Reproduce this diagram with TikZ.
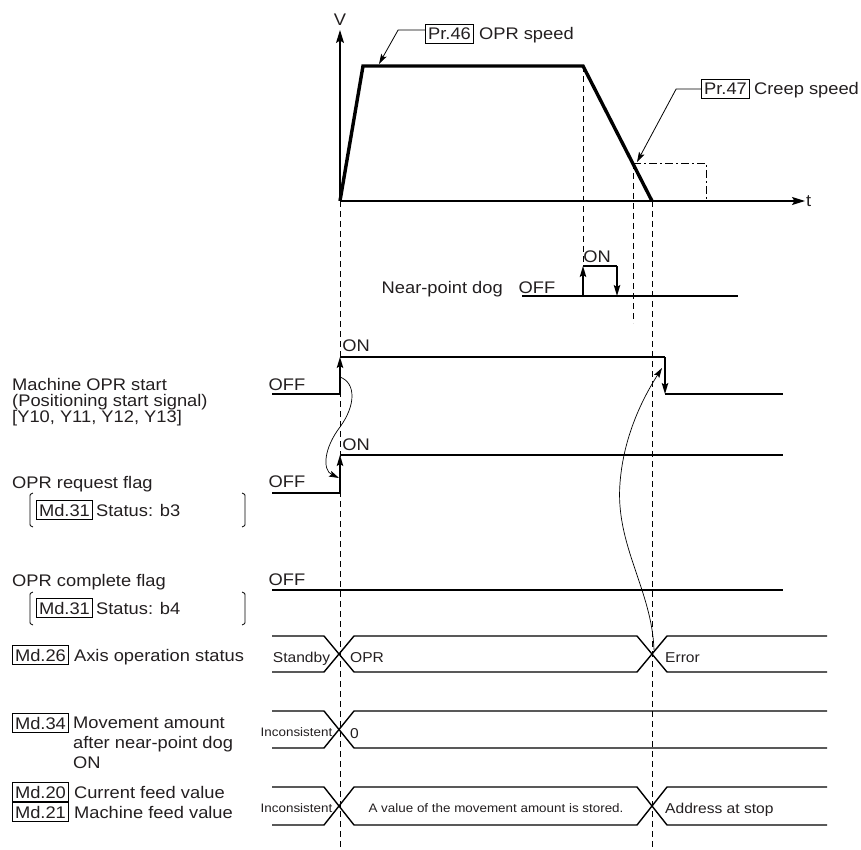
\documentclass[tikz,border=0pt]{standalone}
\usepackage{fontspec}
\setmainfont{Liberation Sans}[FakeStretch=1.09]
\usetikzlibrary{arrows.meta,positioning}
\definecolor{inkgray}{RGB}{35,31,32}
\newcommand{\lblsize}{\fontsize{16.8}{15}\selectfont}
\newcommand{\valsize}{\fontsize{14.3}{16}\selectfont}
\newcommand{\smlsize}{\fontsize{12.3}{14}\selectfont}

\begin{document}
\begin{tikzpicture}[x=1pt, y=-1pt,
  lbl/.style={inner sep=0pt, text=inkgray, font=\lblsize},
  val/.style={inner sep=0pt, text=inkgray, font=\valsize},
  sml/.style={inner sep=0pt, text=inkgray, font=\smlsize},
  parbox/.style={draw, line width=1pt, inner xsep=2.5pt, inner ysep=3.5pt, text height=12pt, text depth=0pt, text=inkgray, font=\lblsize},
  axisline/.style={line width=1.2pt, -{Stealth[length=13pt,width=8pt,inset=2.5pt]}},
  speed/.style={line width=3.4pt, line join=miter},
  sig/.style={line width=1.5pt},
  flank/.style={line width=1.5pt, -{Stealth[length=11pt,width=6.5pt,inset=2pt]}},
  lead/.style={line width=0.8pt, -{Stealth[length=10pt,width=6pt,inset=2pt]}},
  curl/.style={line width=0.7pt, -{Stealth[length=10pt,width=6pt,inset=2pt]}},
  guide/.style={line width=1pt, dash pattern=on 6pt off 4pt},
  bracket/.style={line width=0.8pt},
  bus/.style={line width=1.4pt}]
\useasboundingbox (0,0) rectangle (861,850);

% speed pattern
\coordinate (orig) at (340,201);
\coordinate (vtip) at (340,30);
\coordinate (ttip) at (805,201);
\draw[axisline] (orig) -- (vtip);
\draw[axisline] (orig) -- (ttip);
\node[lbl, anchor=base] (vlbl) at (340,26) {V};
\node[lbl, anchor=base west] (tlbl) at (806,207) {t};
\coordinate (accend) at (363,66);
\coordinate (decbeg) at (583,66);
\coordinate (stopped) at (652,201);
\draw[speed] (orig) -- (accend) -- (decbeg) -- (stopped);

\node[parbox, anchor=base] (pr46) at (449.5,40) {Pr.46};
\node[lbl, right=5pt of pr46.base east, anchor=base west] (oprspd) {OPR speed};
\coordinate (hitop) at (379,64);
\draw[lead] ([yshift=4pt]pr46.west) -- ++(-27,0) -- (hitop);

\node[parbox, anchor=base] (pr47) at (725.5,95) {Pr.47};
\node[lbl, right=4pt of pr47.base east, anchor=base west] (creep) {Creep speed};
\coordinate (creeppt) at (637,162);
\draw[lead] (pr47.west) -- ++(-25,0) -- (creeppt);

\coordinate (creepon) at (633,163);
\draw[line width=0.9pt, dash pattern=on 8pt off 3pt on 2pt off 3pt] (creepon) -- (706,163) -- (706,201);

% timing guides
\draw[guide] (decbeg) -- (583,266);
\draw[guide] (creepon) -- (633,323);
\draw[guide] (stopped) -- (652,850);
\draw[guide] (orig) -- (340,850);

% near-point dog
\node[lbl, anchor=base east] (doglbl) at (503,293) {Near-point dog};
\node[lbl, anchor=base] (dogoff) at (537,293) {OFF};
\node[lbl, anchor=base] (dogon) at (597,262) {ON};
\draw[sig] (522,296) -- (738,296) (583,266) -- (617,266);
\draw[flank] (583,296) -- (583,266);
\draw[flank] (617,266) -- (617,296);

% signals
\draw[sig] (272,394) -- (340,394) (340,357) -- (665,357) (665,394) -- (783,394);
\draw[flank] (340,394) -- (340,357);
\draw[flank] (665,357) -- (665,394);
\node[lbl, anchor=base] (stoff) at (287,390) {OFF};
\node[lbl, anchor=base] (ston) at (356,351) {ON};

\draw[sig] (272,493) -- (340,493) (340,455) -- (783,455);
\draw[flank] (340,493) -- (340,455);
\node[lbl, anchor=base] (rqoff) at (287,487) {OFF};
\node[lbl, anchor=base] (rqon) at (356,450) {ON};

\draw[sig, line width=2.2pt] (272,590) -- (783,590);
\node[lbl, anchor=base] (cpoff) at (287,585) {OFF};

\coordinate (startup) at (340,377);
\coordinate (requp) at (339,478);
\draw[curl] (startup) .. controls (356,383) and (356,405) .. (340,427) .. controls (324,448) and (322,470) .. (requp);
\coordinate (errcross) at (654,650);
\coordinate (startdown) at (662,368);
\draw[curl] (errcross) .. controls (652,590) and (615,545) .. (620,483) .. controls (624,430) and (648,390) .. (startdown);

% monitor data
\foreach \yt/\yb in {636/672, 787/825} {
  \draw[bus] (272,\yt) -- (324,\yt) -- (354,\yb) -- (637,\yb) -- (667,\yt) -- (827,\yt);
  \draw[bus] (272,\yb) -- (324,\yb) -- (354,\yt) -- (637,\yt) -- (667,\yb) -- (827,\yb);
}
\draw[bus] (272,711) -- (324,711) -- (354,748) -- (827,748);
\draw[bus] (272,748) -- (324,748) -- (354,711) -- (827,711);

\node[val, anchor=base] (standby) at (301.5,662) {Standby};
\node[val, anchor=base west] (oprst) at (350,662) {OPR};
\node[val, anchor=base west] (errst) at (665,662) {Error};
\node[sml, anchor=base] (incon1) at (296.5,736.5) {Inconsistent};
\node[val, anchor=base west] (zero) at (350,738) {0};
\node[sml, anchor=base] (incon2) at (296.5,812.5) {Inconsistent};
\node[sml, anchor=base] (stored) at (496,812.5) {A value of the movement amount is stored.};
\node[val, anchor=base west] (addr) at (665,813) {Address at stop};

% left side labels
\node[lbl, anchor=north west, align=left, font=\fontsize{16.8}{16}\selectfont] (opstart) at (12,378.5) {Machine OPR start\\(Positioning start signal)\\{[}Y10, Y11, Y12, Y13{]}};

\node[lbl, anchor=base west] (reqlbl) at (12,488) {OPR request flag};
\node[parbox, anchor=base west] (md31a) at (36,516) {Md.31};
\node[lbl, right=3pt of md31a.base east, anchor=base west] (b3) {Status: b3};
\draw[bracket] (33,493) .. controls (30,494) .. (30,498) -- (30,522) .. controls (30,526) .. (33,527);
\draw[bracket] (242,493) .. controls (245,494) .. (245,498) -- (245,522) .. controls (245,526) .. (242,527);

\node[lbl, anchor=base west] (cmplbl) at (12,586) {OPR complete flag};
\node[parbox, anchor=base west] (md31b) at (36,614) {Md.31};
\node[lbl, right=3pt of md31b.base east, anchor=base west] (b4) {Status: b4};
\draw[bracket] (33,592) .. controls (30,593) .. (30,597) -- (30,620) .. controls (30,624) .. (33,625);
\draw[bracket] (242,592) .. controls (245,593) .. (245,597) -- (245,620) .. controls (245,624) .. (242,625);

\node[parbox, anchor=base west] (md26) at (12,661) {Md.26};
\node[lbl, right=5pt of md26.base east, anchor=base west] (axstat) {Axis operation status};

\node[parbox, anchor=base west] (md34) at (12,729) {Md.34};
\node[lbl, align=left, anchor=north west, font=\fontsize{16.8}{20}\selectfont] (mvamt) at (73,717) {Movement amount\\after near-point dog\\ON};

\node[parbox, anchor=base west] (md20) at (12,798) {Md.20};
\node[lbl, right=5pt of md20.base east, anchor=base west] (curfeed) {Current feed value};
\node[parbox, anchor=base west] (md21) at (12,818) {Md.21};
\node[lbl, right=5pt of md21.base east, anchor=base west] (macfeed) {Machine feed value};
\end{tikzpicture}
\end{document}
